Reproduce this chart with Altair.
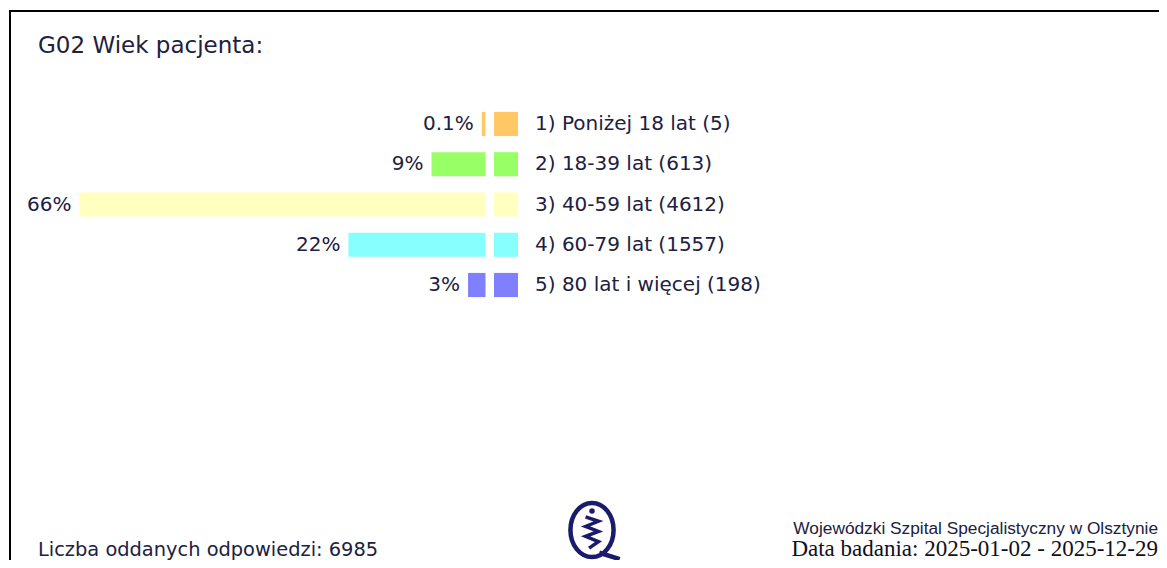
import altair as alt
import pandas as pd

# ---- data ----
labels = [
    "1) Poniżej 18 lat (5)",
    "2) 18-39 lat (613)",
    "3) 40-59 lat (4612)",
    "4) 60-79 lat (1557)",
    "5) 80 lat i więcej (198)",
]
counts = [5, 613, 4612, 1557, 198]
pct_labels = ["0.1%", "9%", "66%", "22%", "3%"]
colors = ["#FFC864", "#99FF66", "#FFFFC0", "#88FFFF", "#7F7FFF"]
total = 6985
title_text = "G02 Wiek pacjenta:"
footer_left = "Liczba oddanych odpowiedzi: 6985"
footer_org = "Wojewódzki Szpital Specjalistyczny w Olsztynie"
footer_date = "Data badania: 2025-01-02 - 2025-12-29"

TXT = "#202040"
FONT = "DejaVu Sans"
NAVY = "#1b1b6b"

df = pd.DataFrame({"label": labels, "count": counts, "pct_label": pct_labels})

xscale = alt.Scale(domain=[0, 100], range=[477.5, -137.5])
yscale = alt.Scale(range=[95.875, 297.125], paddingInner=0.4, paddingOuter=0.2)
Y = alt.Y("label:N", sort=labels, scale=yscale, axis=None)
C = alt.Color("label:N", scale=alt.Scale(domain=labels, range=colors), legend=None)

base = alt.Chart(df).transform_calculate(
    pct=f"datum.count / {total} * 100"
).transform_calculate(
    disp="max(datum.pct, 0.6)"  # minimum visible bar width, as in the original renderer
)

bars = base.mark_bar().encode(
    x=alt.X("disp:Q", scale=xscale, axis=None),
    x2=alt.datum(0),
    y=Y,
    color=C,
)

pct_text = base.mark_text(
    align="right", baseline="middle", dx=-8, font=FONT, fontSize=20, color=TXT
).encode(x=alt.X("disp:Q", scale=xscale, axis=None), y=Y, text="pct_label:N")

squares = base.mark_rect().encode(
    x=alt.value(486), x2=alt.value(510), y=Y, color=C
)

cat_text = base.mark_text(
    align="left", baseline="middle", font=FONT, fontSize=20, color=TXT
).encode(x=alt.value(527), y=Y, text="label:N")

one = pd.DataFrame({"t": [0]})


def static(text, x, y, **kw):
    return alt.Chart(one).mark_text(text=text, **kw).encode(
        x=alt.value(x), y=alt.value(y)
    )


title = static(title_text, 30, 45, align="left", baseline="alphabetic",
               font=FONT, fontSize=23, color=TXT)
foot_l = static(footer_left, 30, 548, align="left", baseline="alphabetic",
                font=FONT, fontSize=19.4, color=TXT)
foot_org = static(footer_org, 1150, 526, align="right", baseline="alphabetic",
                  font="Liberation Sans", fontSize=17.3, color=TXT)
foot_date = static(footer_date, 1150, 548, align="right", baseline="alphabetic",
                   font="Liberation Serif", fontSize=23, color="#101020")

# logo: oval "Q" with a helix inside
q_shape = ("M 0 -0.93 A 0.74 0.93 0 1 1 0 0.93 A 0.74 0.93 0 1 1 0 -0.93 Z "
           "M 0.25 0.78 L 0.95 1.0")
helix_shape = ("M -0.22 -0.45 L 0.22 -0.3 L -0.22 -0.12 L 0.22 0.05 "
               "L -0.22 0.22 L 0.22 0.4 L -0.1 0.62")
logo_q = alt.Chart(one).mark_point(
    shape=q_shape, size=3400, filled=False, stroke=NAVY, strokeWidth=4.5, opacity=1
).encode(x=alt.value(584), y=alt.value(522))
logo_h = alt.Chart(one).mark_point(
    shape=helix_shape, size=3400, filled=False, stroke=NAVY, strokeWidth=3.5, opacity=1
).encode(x=alt.value(584), y=alt.value(522))
logo_dot = alt.Chart(one).mark_point(
    shape="circle", size=30, filled=True, color=NAVY, opacity=1
).encode(x=alt.value(584), y=alt.value(503))

border = alt.Chart(one).mark_rect(
    fillOpacity=0, stroke="black", strokeWidth=2, clip=True
).encode(x=alt.value(2), x2=alt.value(1300), y=alt.value(3), y2=alt.value(700))

chart = alt.layer(
    border, bars, pct_text, squares, cat_text, title, foot_l, foot_org, foot_date,
    logo_q, logo_h, logo_dot
).properties(
    width=1151, height=552, padding=0,
    autosize=alt.AutoSizeParams(type="none"),
).configure_view(stroke=None)

chart.save("out.html", embed_options={"renderer": "svg", "actions": False})
